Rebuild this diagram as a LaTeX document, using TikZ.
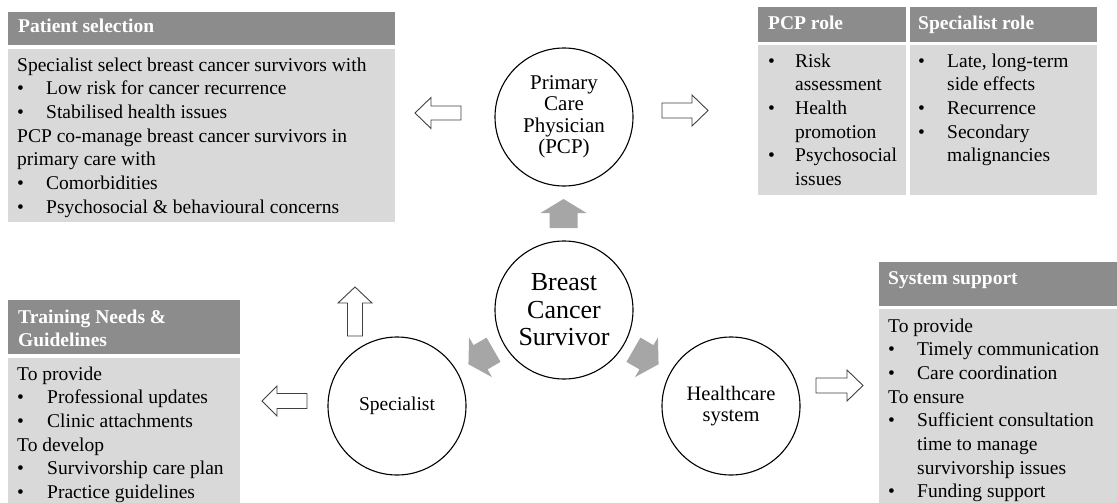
\documentclass[tikz,border=0pt]{standalone}
\usepackage{fontspec}
\setmainfont{Liberation Serif}
\definecolor{hdrg}{HTML}{8C8C8C}
\definecolor{bodyg}{HTML}{D9D9D9}
\definecolor{arrg}{HTML}{A6A6A6}
\newcommand{\rows}[1]{\vtop{\baselineskip=23.7pt\halign{##\hfil\cr#1\crcr}}}
\newcommand{\bul}[1][29pt]{\hbox to #1{\textbullet\hfil}}
\newcommand{\ind}[1][29pt]{\hskip#1\relax}
% style, cx, cy, rotation, length, head width, shaft width, head length
\newcommand{\bkarrow}[8]{%
  \draw[#1, shift={(#2,#3)}, rotate=#4]
    (-#5/2,-#7/2) -- (#5/2-#8,-#7/2) -- (#5/2-#8,-#6/2) -- (#5/2,0)
    -- (#5/2-#8,#6/2) -- (#5/2-#8,#7/2) -- (-#5/2,#7/2) -- cycle;}
\begin{document}
\begin{tikzpicture}[x=1pt,y=-1pt,
  txt/.style={inner sep=0pt, anchor=base west, font=\fontsize{19.5pt}{23.7pt}\selectfont},
  hdrtxt/.style={inner sep=0pt, anchor=base west, text=white, font=\fontsize{19.5pt}{23.7pt}\selectfont\bfseries},
  hdrpanel/.style={fill=hdrg},
  bodypanel/.style={fill=bodyg},
  circ/.style={circle, draw=black, line width=1.1pt, minimum size=138pt, inner sep=0pt, align=center},
  hollow/.style={draw=black!75, fill=white, line width=0.9pt, line join=miter},
  solid/.style={fill=arrg, draw=none}]
\useasboundingbox (0,0) rectangle (1117,503);

% Patient selection panel
\fill[hdrpanel] (8,12) rectangle (395,45);
\fill[bodypanel] (8,49) rectangle (395,222);
\node[hdrtxt] (pshead) at (18,33) {Patient selection};
\node[txt] (psbody) at (17,71) {\rows{%
Specialist select breast cancer survivors with\cr
\bul Low risk for cancer recurrence\cr
\bul Stabilised health issues\cr
PCP co-manage breast cancer survivors in\cr
primary care with\cr
\bul Comorbidities\cr
\bul Psychosocial \& behavioural concerns}};

% PCP role / Specialist role table
\fill[hdrpanel] (758,7) rectangle (906,42);
\fill[hdrpanel] (910,7) rectangle (1097,42);
\fill[bodypanel] (758,45) rectangle (906,195);
\fill[bodypanel] (910,45) rectangle (1097,195);
\node[hdrtxt] (pcphead) at (768,30) {PCP role};
\node[hdrtxt] (sphead) at (918,30) {Specialist role};
\node[txt] (pcpbody) at (768,67) {\rows{%
\bul[27pt]Risk\cr
\ind[27pt]assessment\cr
\bul[27pt]Health\cr
\ind[27pt]promotion\cr
\bul[27pt]Psychosocial\cr
\ind[27pt]issues}};
\node[txt] (spbody) at (918,67) {\rows{%
\bul Late, long-term\cr
\ind side effects\cr
\bul Recurrence\cr
\bul Secondary\cr
\ind malignancies}};

% Training needs panel
\fill[hdrpanel] (8,300) rectangle (240,354);
\fill[bodypanel] (8,358) rectangle (240,503);
\node[hdrtxt] (trhead) at (18,323) {\rows{Training Needs \&\cr Guidelines}};
\node[txt] (trbody) at (17,380) {\rows{%
To provide\cr
\bul[30pt]Professional updates\cr
\bul[30pt]Clinic attachments\cr
To develop\cr
\bul[30pt]Survivorship care plan\cr
\bul[30pt]Practice guidelines}};

% System support panel
\fill[hdrpanel] (879,262) rectangle (1117,306);
\fill[bodypanel] (879,309) rectangle (1117,503);
\node[hdrtxt] (sshead) at (888,284) {System support};
\node[txt] (ssbody) at (888,332) {\rows{%
To provide\cr
\bul Timely communication\cr
\bul Care coordination\cr
To ensure\cr
\bul Sufficient consultation\cr
\ind time to manage\cr
\ind survivorship issues\cr
\bul Funding support}};

% Circles
\node[circ, font=\fontsize{21pt}{21.5pt}\selectfont] (pcp) at (564,117) {Primary\\Care\\Physician\\(PCP)};
\node[circ, font=\fontsize{26pt}{27.5pt}\selectfont] (bcs) at (564,310) {Breast\\Cancer\\Survivor};
\node[circ, font=\fontsize{19.5pt}{23pt}\selectfont] (spec) at (397,406) {Specialist};
\node[circ, font=\fontsize{20.5pt}{21pt}\selectfont] (hcs) at (731,406) {Healthcare\\system};

% Solid grey arrows from the survivor
\bkarrow{solid}{563.5}{213.5}{90}{29}{46}{28}{14}
\bkarrow{solid}{481}{357}{210}{29}{46}{28}{14}
\bkarrow{solid}{646}{357}{-30}{29}{46}{28}{14}

% Hollow arrows towards the panels
\bkarrow{hollow}{438}{113}{180}{46}{31}{14}{16}
\bkarrow{hollow}{685}{110.5}{0}{46}{31}{15}{16}
\bkarrow{hollow}{355}{311.5}{90}{49}{34}{15}{16}
\bkarrow{hollow}{284.5}{401}{180}{45}{30}{15}{15}
\bkarrow{hollow}{839.5}{385.5}{0}{47}{31}{15}{16}
\end{tikzpicture}
\end{document}
